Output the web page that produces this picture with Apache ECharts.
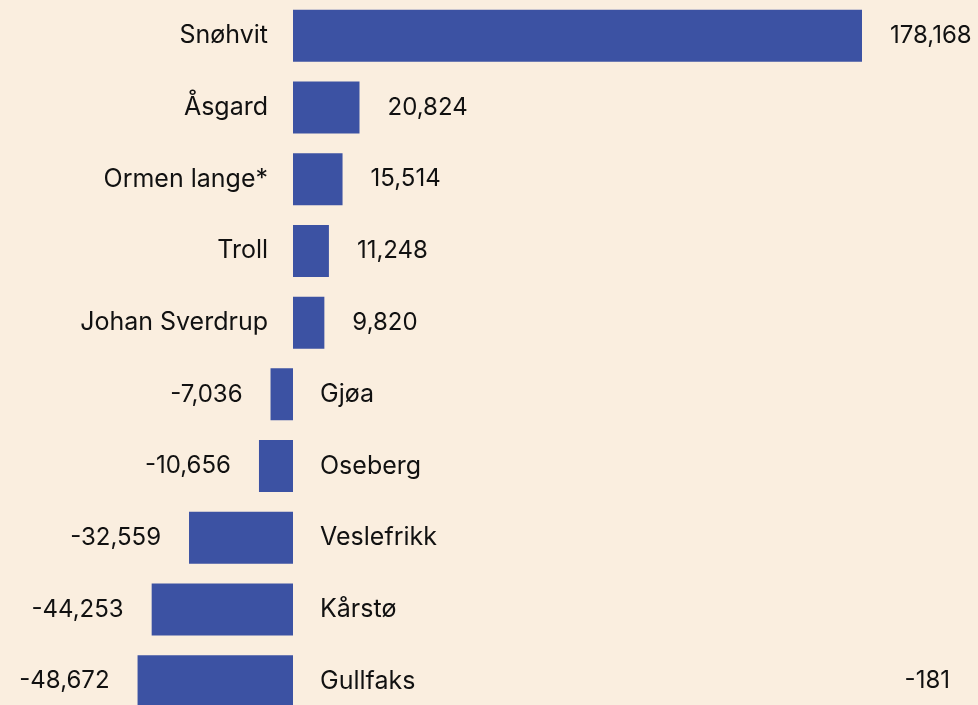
<!DOCTYPE html>
<html>
<head>
<meta charset="utf-8">
<script src="https://cdn.jsdelivr.net/npm/echarts@6/dist/echarts.min.js"></script>
<style>
html,body{margin:0;padding:0;background:#FAEEDF;}
#chart{width:978px;height:705px;}
</style>
</head>
<body>
<div id="chart"></div>
<script>
const categories = ["Snøhvit", "Åsgard", "Ormen lange*", "Troll", "Johan Sverdrup", "Gjøa", "Oseberg", "Veslefrikk", "Kårstø", "Gullfaks"];
const values = [178168, 20824, 15514, 11248, 9820, -7036, -10656, -32559, -44253, -48672];
const extraLabel = "-181";

const fmt = v => v.toLocaleString('en-US');
const FONT = 'Inter';
const FS_NUM = 24;
const FS_NAME = 25;
const TXT = '#111111';

const zeroX = 293;
const k = 569 / 178168;
const xMin = -50000, xMax = 180000;
const gridLeft = zeroX + xMin * k;
const gridWidth = (xMax - xMin) * k;

const chart = echarts.init(document.getElementById('chart'));
chart.setOption({
  backgroundColor: '#FAEEDF',
  animation: false,
  grid: { left: gridLeft, width: gridWidth, top: 0, height: 717, containLabel: false, outerBoundsMode: 'none' },
  xAxis: { type: 'value', min: xMin, max: xMax, show: false },
  yAxis: { type: 'category', data: categories, inverse: true, show: false },
  series: [
    {
      type: 'bar',
      barWidth: 52,
      barGap: '-100%',
      itemStyle: { color: '#3C52A3' },
      data: values.map(v => ({
        value: v,
        label: {
          show: true,
          position: v >= 0 ? 'right' : 'left',
          distance: 28,
          formatter: () => fmt(v),
          fontFamily: FONT, fontSize: FS_NUM, color: TXT
        }
      }))
    },
    {
      type: 'bar',
      barWidth: 52,
      itemStyle: { color: 'transparent' },
      data: values.map((v, i) => ({
        value: 0,
        label: {
          show: true,
          position: v >= 0 ? 'left' : 'right',
          distance: v >= 0 ? 25 : 27,
          formatter: () => categories[i],
          fontFamily: FONT, fontSize: FS_NAME, color: TXT
        }
      }))
    }
  ],
  graphic: [{
    type: 'text',
    right: 28,
    top: 669,
    style: { text: extraLabel, fontFamily: FONT, fontSize: FS_NUM, fill: TXT }
  }]
});
</script>
</body>
</html>
